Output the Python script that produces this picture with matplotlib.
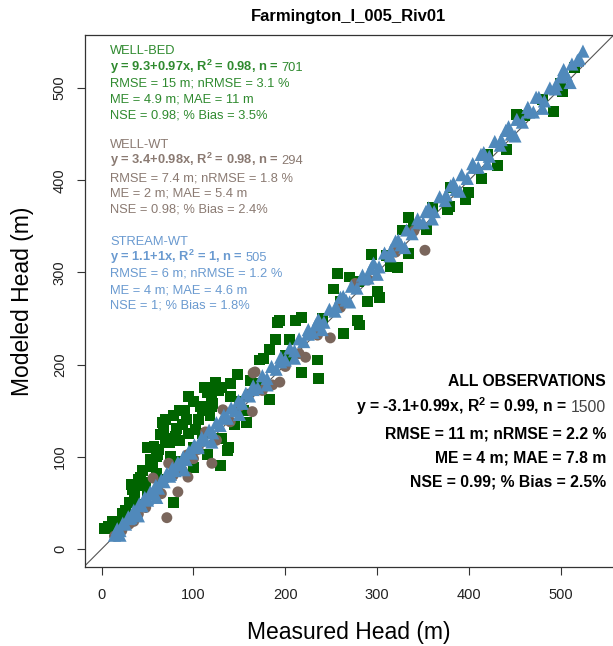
import matplotlib
matplotlib.use("Agg")
import matplotlib.pyplot as plt
import numpy as np

plt.rcParams['font.family'] = ['Liberation Sans', 'DejaVu Sans']
plt.rcParams['mathtext.fontset'] = 'custom'
plt.rcParams['mathtext.rm'] = 'Liberation Sans'
plt.rcParams['mathtext.bf'] = 'Liberation Sans:bold'

title = "Farmington_I_005_Riv01"
xlabel = "Measured Head (m)"
ylabel = "Modeled Head (m)"
ticks = [0, 100, 200, 300, 400, 500]

# WELL-BED (green squares): measured, modeled
bed_x = [7, 20, 23, 34, 38, 60, 60, 53, 64, 67, 82, 74, 78, 61, 121, 127, 120, 131, 148,
         137, 129, 138, 158, 162, 183, 172, 183, 176, 191, 189, 205, 218, 194, 211, 235,
         236, 218, 205, 263, 279, 281, 289, 252, 257, 270, 294, 300, 322, 303, 314, 328,
         334, 334, 354, 377, 396, 399, 414, 431, 441, 452, 492, 502, 379,
         15, 28, 40, 50, 65, 85, 100, 110, 150, 170, 200, 240, 260, 280, 310, 340, 360,
         380, 420, 460, 480, 500, 515,
         45, 50, 70, 78, 90, 100, 105, 95, 40, 30, 85, 115, 110, 140, 124, 85, 95, 112,
         70, 88, 3, 12, 33, 42, 57, 66, 120, 140,
         48, 55, 62, 75, 80, 92, 102, 108, 118, 36, 26, 18, 130, 145, 155, 100, 115]
bed_y = [24, 26, 39, 64, 69, 82, 100, 97, 124, 129, 131, 116, 50, 102, 158, 172, 154, 175, 189,
         107, 91, 110, 137, 183, 162, 205, 216, 207, 246, 227, 227, 251, 248, 248, 205,
         185, 191, 208, 234, 248, 243, 268, 282, 299, 295, 319, 279, 305, 273, 306, 346,
         360, 321, 346, 368, 379, 387, 402, 416, 433, 471, 475, 496, 371,
         20, 35, 48, 60, 75, 95, 110, 125, 160, 180, 210, 250, 268, 290, 318, 350, 370,
         392, 428, 470, 488, 505, 522,
         85, 110, 140, 145, 150, 160, 140, 125, 75, 50, 118, 170, 150, 180, 181, 150, 165, 175,
         120, 135, 22, 30, 70, 78, 111, 137, 165, 165,
         72, 90, 108, 100, 122, 140, 130, 155, 145, 58, 42, 30, 120, 135, 150, 88, 103]

# WELL-WT (brown circles)
wt_x = [71, 120, 73, 83, 94, 56, 113, 93, 132, 164, 186, 167, 249, 222, 165, 194, 276, 352,
        14, 22, 30, 40, 48, 60, 78, 88, 100, 105, 140, 150, 175, 200, 215, 235, 260, 290,
        320, 340, 160, 35, 65, 125]
wt_y = [34, 93, 93, 62, 78, 77, 127, 102, 151, 149, 178, 192, 229, 208, 191, 181, 288, 324,
        14, 20, 27, 38, 45, 58, 80, 85, 98, 108, 138, 155, 172, 198, 212, 232, 262, 292,
        322, 345, 168, 30, 60, 118]

# STREAM-WT (blue triangles)
st_x = [14, 17, 20, 23, 26, 29, 32, 35, 38, 41, 44, 47, 50, 53, 56, 59, 62, 65, 68, 71,
        74, 77, 80, 83, 86, 89, 92, 95, 98, 101, 105, 109, 113, 117, 121, 125, 129, 133,
        137, 141, 145, 149, 153, 157, 161, 165, 170, 175, 180, 185, 190, 195, 200, 205,
        210, 215, 220, 225, 230, 236, 242, 248, 254, 260, 266, 272, 278, 284, 290, 296,
        302, 308, 314, 320, 326, 332, 338, 344, 350, 356, 362, 368, 374, 380, 386, 392,
        398, 404, 410, 416, 422, 428, 434, 440, 446, 452, 458, 464, 470, 476, 482, 488,
        494, 500, 506, 512, 518, 524,
        20, 40, 60, 90, 120, 150, 180, 210, 240, 270, 300, 330, 360, 390, 420, 450, 480, 510,
        30, 50, 75, 105, 135, 165, 195, 225, 255, 285, 315, 345, 375, 405, 435, 465, 495,
        233, 263, 293, 323, 353, 383, 413, 443, 473, 503, 520]
st_y = [15, 22, 20, 28, 27, 35, 34, 42, 40, 49, 47, 56, 53, 62, 60, 69, 66, 75, 73, 82,
        79, 88, 85, 94, 91, 100, 97, 106, 104, 113, 110, 121, 118, 129, 126, 137, 134, 145,
        142, 153, 150, 161, 158, 169, 166, 177, 175, 188, 185, 198, 195, 208, 205, 218,
        215, 228, 225, 238, 235, 249, 246, 260, 258, 273, 270, 285, 283, 297, 294, 310,
        306, 321, 318, 334, 330, 346, 342, 358, 354, 370, 366, 382, 378, 394, 390, 406,
        402, 418, 414, 430, 426, 442, 438, 454, 450, 466, 463, 479, 474, 490, 486, 500,
        499, 512, 514, 526, 530, 540,
        15, 36, 56, 86, 116, 146, 178, 207, 238, 268, 298, 327, 358, 388, 418, 448, 478, 506,
        33, 55, 81, 112, 142, 173, 203, 233, 263, 293, 324, 354, 384, 414, 444, 474, 504,
        243, 274, 304, 335, 366, 397, 428, 458, 490, 520, 532]

green = '#006400'
brown = '#7a665c'
blue = '#5089bb'
green_txt = '#2f8a2f'
brown_txt = '#8a7a72'
blue_txt = '#6a9ad0'

W, H = 613, 646
fig = plt.figure(figsize=(W / 100, H / 100), dpi=100)
ax = fig.add_axes([85 / W, (H - 567) / H, 529 / W, 532 / H])
ax.set_xlim(-18.1, 557.8)
ax.set_ylim(-19.5, 557.5)

ax.axline((0, 0), (1, 1), color='#555555', lw=0.8, zorder=1)
ax.scatter(bed_x, bed_y, marker='s', s=62, c=green, edgecolors='none', zorder=2)
ax.scatter(wt_x, wt_y, marker='o', s=62, c=brown, edgecolors='none', zorder=3)
ax.scatter(st_x, st_y, marker='^', s=90, c=blue, edgecolors='none', zorder=4)

ax.set_xticks(ticks)
ax.set_yticks(ticks)
ax.set_xticklabels([str(t) for t in ticks], fontsize=10.5, color='#222222')
ax.set_yticklabels([str(t) for t in ticks], fontsize=10.5, color='#222222',
                   rotation=90, va='center')
ax.tick_params(direction='out', length=6, width=0.8, color='#333333')
ax.tick_params(axis='x', pad=9)
ax.tick_params(axis='y', pad=7)
for sp in ax.spines.values():
    sp.set_color('#333333')
    sp.set_linewidth(0.9)

fig.text(349 / W, 1 - 632 / H, xlabel, fontsize=16.5, ha='center', va='center')
fig.text(23 / W, 1 - 301 / H, ylabel, fontsize=16.5, ha='center', va='center', rotation=90)
fig.text(349 / W, 1 - 17 / H, title, fontsize=12, fontweight='bold', ha='center', va='center')

renderer = fig.canvas.get_renderer()


def fy(py):
    return 1 - py / H


def bold_with_number(x0, py, eq, n, col, fs, ncol, align='left'):
    """Bold equation text followed by a non-bold number on the same baseline."""
    yb = fy(py + fs * 0.36)
    if align == 'left':
        t = fig.text(x0 / W, yb, eq, fontsize=fs, color=col, va='baseline',
                     fontweight='bold', ha='left')
        bb = t.get_window_extent(renderer)
        fig.text((bb.x1 + fs * 0.3) / W, yb, n, fontsize=fs, color=ncol, va='baseline', ha='left')
    else:
        tn = fig.text(x0 / W, yb, n, fontsize=fs, color=ncol, va='baseline', ha='right')
        bb = tn.get_window_extent(renderer)
        fig.text((bb.x0 - fs * 0.3) / W, yb, eq, fontsize=fs, color=col, va='baseline',
                 fontweight='bold', ha='right')


def block(x0, ys, name, eq, n, l3, l4, l5, col):
    fs = 9.3
    fig.text(x0 / W, fy(ys[0]), name, fontsize=fs, color=col, va='center')
    bold_with_number(x0, ys[1], eq, n, col, fs, col)
    fig.text(x0 / W, fy(ys[2]), l3, fontsize=fs, color=col, va='center')
    fig.text(x0 / W, fy(ys[3]), l4, fontsize=fs, color=col, va='center')
    fig.text(x0 / W, fy(ys[4]), l5, fontsize=fs, color=col, va='center')


block(110, [51, 68, 84, 100, 116], 'WELL-BED', r'y = 9.3+0.97x, R$^{\mathbf{2}}$ = 0.98, n =', '701',
      'RMSE = 15 m; nRMSE = 3.1 %', 'ME = 4.9 m; MAE = 11 m', 'NSE = 0.98; % Bias = 3.5%', green_txt)
block(110, [145, 161, 178, 194, 210], 'WELL-WT', r'y = 3.4+0.98x, R$^{\mathbf{2}}$ = 0.98, n =', '294',
      'RMSE = 7.4 m; nRMSE = 1.8 %', 'ME = 2 m; MAE = 5.4 m', 'NSE = 0.98; % Bias = 2.4%', brown_txt)
block(110, [242, 258, 274, 290, 306], 'STREAM-WT', r'y = 1.1+1x, R$^{\mathbf{2}}$ = 1, n =', '505',
      'RMSE = 6 m; nRMSE = 1.2 %', 'ME = 4 m; MAE = 4.6 m', 'NSE = 1; % Bias = 1.8%', blue_txt)

fsa = 11.3
xr = 606
fig.text(xr / W, fy(381), 'ALL OBSERVATIONS', fontsize=fsa, fontweight='bold', ha='right', va='center')
bold_with_number(xr, 408, r'y = -3.1+0.99x, R$^{\mathbf{2}}$ = 0.99, n =', '1500', 'black', fsa,
                 '#444444', align='right')
fig.text(xr / W, fy(434), 'RMSE = 11 m; nRMSE = 2.2 %', fontsize=fsa, fontweight='bold', ha='right', va='center')
fig.text(xr / W, fy(458), 'ME = 4 m; MAE = 7.8 m', fontsize=fsa, fontweight='bold', ha='right', va='center')
fig.text(xr / W, fy(482), 'NSE = 0.99; % Bias = 2.5%', fontsize=fsa, fontweight='bold', ha='right', va='center')

fig.savefig('out.png', dpi=100)
